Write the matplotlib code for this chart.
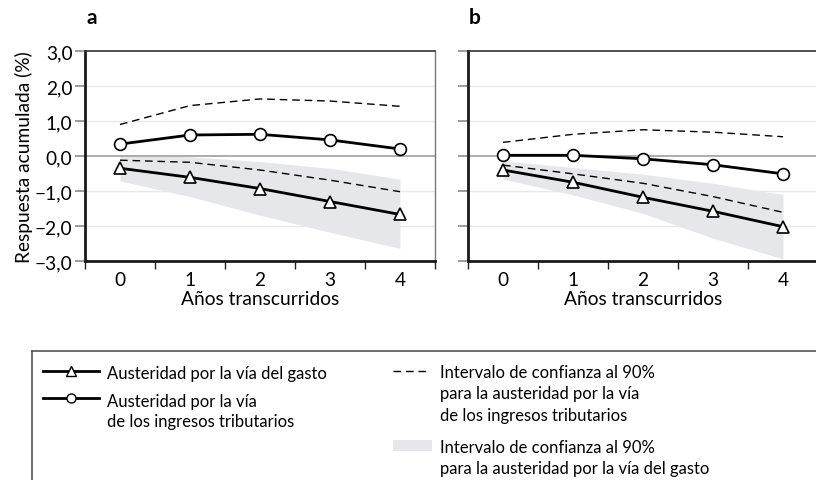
import matplotlib
matplotlib.use("Agg")
import matplotlib.pyplot as plt
from matplotlib.lines import Line2D
from matplotlib.patches import Rectangle

plt.rcParams['font.family'] = ['Lato', 'DejaVu Sans']

years = [0, 1, 2, 3, 4]
year_labels = ["0", "1", "2", "3", "4"]
y_ticks = [-3, -2, -1, 0, 1, 2, 3]
y_tick_labels = ["\u22123,0", "\u22122,0", "\u22121,0", "0,0", "1,0", "2,0", "3,0"]

# Panel a
a_gasto = [-0.35, -0.61, -0.93, -1.30, -1.67]
a_ingresos = [0.34, 0.60, 0.62, 0.46, 0.20]
a_ing_hi = [0.90, 1.44, 1.63, 1.57, 1.42]
a_ing_lo = [-0.12, -0.18, -0.40, -0.69, -1.02]
a_gas_hi = [0.05, -0.02, -0.16, -0.35, -0.66]
a_gas_lo = [-0.71, -1.16, -1.69, -2.18, -2.64]

# Panel b
b_gasto = [-0.40, -0.75, -1.18, -1.58, -2.02]
b_ingresos = [0.02, 0.02, -0.08, -0.25, -0.51]
b_ing_hi = [0.39, 0.62, 0.75, 0.68, 0.55]
b_ing_lo = [-0.26, -0.51, -0.78, -1.16, -1.61]
b_gas_hi = [-0.14, -0.33, -0.52, -0.78, -1.10]
b_gas_lo = [-0.66, -1.11, -1.64, -2.35, -2.94]

panels = [
    ("a", a_gasto, a_ingresos, a_ing_hi, a_ing_lo, a_gas_hi, a_gas_lo),
    ("b", b_gasto, b_ingresos, b_ing_hi, b_ing_lo, b_gas_hi, b_gas_lo),
]

W, H = 816, 481
fig = plt.figure(figsize=(W / 100, H / 100), dpi=100)

def fx(px):
    return px / W

def fy(py):
    return 1 - py / H

shade_col = "#e6e7e8"
FS = 13.8
lefts = [85, 468]
for i, (lab, gas, ing, ihi, ilo, ghi, glo) in enumerate(panels):
    ax = fig.add_axes([fx(lefts[i]), fy(262), fx(350), (262 - 52) / H])
    ax.set_xlim(-0.5, 4.5)
    ax.set_ylim(-3, 3)
    for g in [-2, -1, 1, 2]:
        ax.axhline(g, color="#e8e8e8", lw=1.0, zorder=0)
    ax.fill_between(years, glo, ghi, color=shade_col, lw=0, zorder=1)
    ax.axhline(0, color="#a6a6a6", lw=1.3, zorder=2)
    ax.plot(years, ihi, color="black", lw=1.0, ls=(0, (5.5, 3.5)), zorder=3)
    ax.plot(years, ilo, color="black", lw=1.0, ls=(0, (5.5, 3.5)), zorder=3)
    ax.plot(years, ing, color="black", lw=2.0, marker="o", ms=8.5,
            mfc="white", mec="black", mew=1.2, zorder=4, clip_on=False)
    ax.plot(years, gas, color="black", lw=2.0, marker="^", ms=8.0,
            mfc="white", mec="black", mew=1.2, zorder=4, clip_on=False)

    ax.set_xticks([-0.5, 0.5, 1.5, 2.5, 3.5, 4.5])
    ax.set_xticklabels([])
    ax.set_xticks(years, minor=True)
    ax.set_xticklabels(year_labels, minor=True, fontsize=FS)
    ax.tick_params(axis="x", which="major", length=6, width=1.0, color="#222222", direction="out")
    ax.tick_params(axis="x", which="minor", length=0, pad=7)
    ax.set_yticks(y_ticks)
    if i == 0:
        ax.set_yticklabels(y_tick_labels, fontsize=FS)
        ax.set_ylabel("Respuesta acumulada (%)", fontsize=FS, labelpad=1)
    else:
        ax.set_yticklabels([])
    ax.tick_params(axis="y", length=7, width=1.2, color="#8c8c8c", pad=2)
    ax.set_xlabel("A\u00f1os transcurridos", fontsize=FS)
    ax.xaxis.set_label_coords(0.5, -(291 - 262) / 210)

    ax.spines["left"].set_color("#1a1a1a")
    ax.spines["left"].set_linewidth(2.0)
    ax.spines["bottom"].set_color("#1a1a1a")
    ax.spines["bottom"].set_linewidth(2.0)
    ax.spines["top"].set_color("#333333")
    ax.spines["top"].set_linewidth(1.2)
    ax.spines["right"].set_color("#777777")
    ax.spines["right"].set_linewidth(1.0)

    fig.text(fx(lefts[i] + 7), fy(18), lab, fontsize=15, fontweight="bold",
             ha="center", va="center")

# Legend box (open to the right/bottom)
fig.add_artist(Line2D([fx(32), fx(820)], [fy(352), fy(352)], color="#555555", lw=1.2))
fig.add_artist(Line2D([fx(32), fx(32)], [fy(352), fy(490)], color="#555555", lw=1.2))

LF = 12.0

def ltext(x, y, s):
    fig.text(fx(x), fy(y), s, fontsize=LF, va="center_baseline", ha="left")

fig.add_artist(Line2D([fx(43), fx(71), fx(99)], [fy(372)] * 3, color="black", lw=2.0,
                      marker="^", ms=6.5, mfc="white", mec="black", mew=1.0,
                      markevery=[1]))
ltext(107, 372, "Austeridad por la v\u00eda del gasto")
fig.add_artist(Line2D([fx(43), fx(71), fx(99)], [fy(399)] * 3, color="black", lw=2.0,
                      marker="o", ms=6.5, mfc="white", mec="black", mew=1.0,
                      markevery=[1]))
ltext(107, 400, "Austeridad por la v\u00eda")
ltext(107, 420, "de los ingresos tributarios")

fig.add_artist(Line2D([fx(393), fx(430)], [fy(372), fy(372)], color="black", lw=1.0,
                      ls=(0, (5.5, 3.5))))
ltext(440, 372, "Intervalo de confianza al 90%")
ltext(440, 393, "para la austeridad por la v\u00eda")
ltext(440, 415, "de los ingresos tributarios")
fig.add_artist(Rectangle((fx(393), fy(452)), fx(39), 11 / H, color=shade_col, lw=0))
ltext(440, 447, "Intervalo de confianza al 90%")
ltext(440, 468, "para la austeridad por la v\u00eda del gasto")

fig.savefig("out.png", dpi=100)
